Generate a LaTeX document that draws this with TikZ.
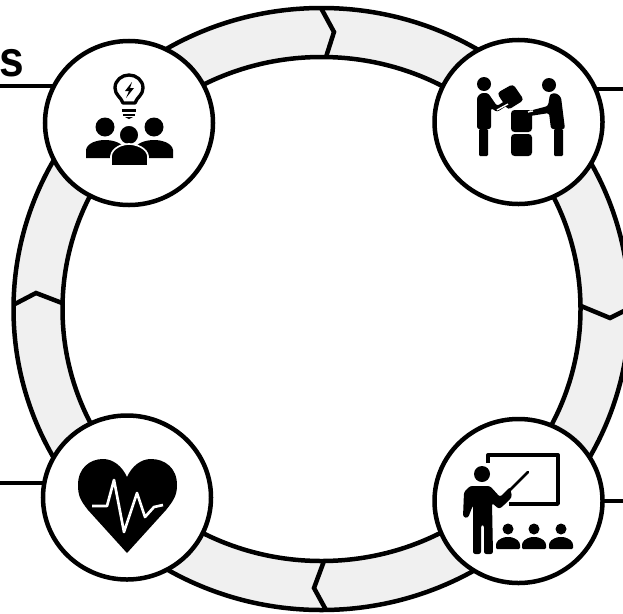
\documentclass[tikz,border=0pt]{standalone}
\usepackage{fontspec}
\setmainfont{Liberation Sans}
\usetikzlibrary{shapes.geometric}
\definecolor{ringgrey}{HTML}{F0F0F0}
\tikzset{
  hub/.style={ellipse,draw=black,fill=white,line width=0.135cm,minimum width=5.04cm,minimum height=4.92cm,inner sep=0pt,outer sep=0pt},
  wire/.style={line width=0.135cm,draw=black},
  ink/.style={fill=black,draw=none},
  cutink/.style={fill=black,draw=white,line width=0.05cm},
  stroke/.style={draw=black,line width=0.1cm,line join=round}
}
\begin{document}
\begin{tikzpicture}[x=0.03cm,y=-0.03cm]
\useasboundingbox (0,0) rectangle (623,613);
\clip (0,0) rectangle (623,613);

\node[coordinate] (c) at (321.5,309) {};
\draw[wire,fill=ringgrey,even odd rule] (c) ellipse [x radius=308,y radius=301] (c) ellipse [x radius=259,y radius=252];

% chevrons in the ring
\node[coordinate] (t1) at (321,8) {};
\node[coordinate] (t2) at (334,32) {};
\node[coordinate] (t3) at (326,57) {};
\node[coordinate] (b1) at (324,561) {};
\node[coordinate] (b2) at (314,588) {};
\node[coordinate] (b3) at (326,610) {};
\node[coordinate] (l1) at (13,305) {};
\node[coordinate] (l2) at (36,293) {};
\node[coordinate] (l3) at (62,303) {};
\node[coordinate] (r1) at (581,306) {};
\node[coordinate] (r2) at (610,318) {};
\node[coordinate] (r3) at (630,308) {};
\draw[wire] (t1)--(t2)--(t3);
\draw[wire] (b1)--(b2)--(b3);
\draw[wire] (l1)--(l2)--(l3);
\draw[wire] (r1)--(r2)--(r3);

\node[hub] (ideas) at (129,123) {};
\node[hub] (handover) at (518.5,122) {};
\node[hub] (teaching) at (518.5,501) {};
\node[hub] (health) at (127,497.5) {};

\node[coordinate] (e1) at (0,86) {};
\node[coordinate] (e2) at (623,89) {};
\node[coordinate] (e3) at (623,501) {};
\node[coordinate] (e4) at (0,483) {};
\draw[wire] (e1)--(e1 -| ideas.154);
\draw[wire] (e2)--(e2 -| handover.20);
\draw[wire] (e3)--(e3 -| teaching.east);
\draw[wire] (e4)--(e4 -| health.170);

\node[anchor=base east,inner sep=0pt] (word) at (24.7,76) {\scalebox{0.88}[1]{\fontsize{43}{43}\selectfont\bfseries s}};

% ideas icon
\draw[stroke] (123,103) .. controls (121,97) and (115,95) .. (115,88) .. controls (115,80) and (122,75) .. (129,75) .. controls (136,75) and (143,80) .. (143,88) .. controls (143,95) and (137,97) .. (135,103) -- cycle;
\path[ink] (132,82)--(125,91)--(129,91)--(126,98)--(134,88)--(130,88)--cycle;
\path[ink] (122,109) rectangle (136,112);
\path[ink] (123,114) rectangle (135,116);
\path[ink] (125,117)--(133,117)--(129,119)--cycle;
\path[ink] (105,127) circle [radius=9.5];
\path[ink] (154,127) circle [radius=9.5];
\path[ink] (86,158)--(86,150) .. controls (87,143) and (97,140) .. (105,140) .. controls (113,140) and (124,143) .. (124,150) -- (124,158) -- cycle;
\path[ink] (173,158)--(173,150) .. controls (172,143) and (162,140) .. (154,140) .. controls (146,140) and (135,143) .. (135,150) -- (135,158) -- cycle;
\path[cutink] (129,135) circle [radius=10];
\path[cutink] (111,166)--(111,156) .. controls (112,148) and (122,144) .. (129,144) .. controls (136,144) and (147,148) .. (148,156) -- (148,166) -- cycle;

% handover icon
\path[ink] (484,84) circle [radius=7];
\path[ink,rounded corners=2pt] (477,129)--(477,97)--(481,93)--(488,93)--(497,106)--(508,99)--(511,103)--(497,112)--(491,108)--(491,129)--cycle;
\path[ink,rounded corners=1pt] (479,129) rectangle (488,156);
\path[ink] (549,85) circle [radius=7];
\path[ink,rounded corners=2pt] (565,129)--(561,97)--(556,93)--(550,94)--(548,106)--(529,111)--(530,116)--(549,113)--(551,129)--cycle;
\path[ink,rounded corners=1pt] (554,129) rectangle (563,156);
\path[ink,rounded corners=3pt] (497,93)--(513,84)--(524,100)--(508,110)--cycle;
\path[ink,rounded corners=3pt] (511,110) rectangle (532,132);
\path[ink,rounded corners=3pt] (511,134) rectangle (532,156);
\draw[white,line width=0.04cm] (497,110)--(508,104) (528,112)--(533,111);

% teaching icon
\draw[stroke] (488,463)--(488,455)--(558,455)--(558,504)--(509,504);
\path[ink] (482,474) circle [radius=8];
\path[ink,rounded corners=2pt] (463,517)--(464,492)--(470,486)--(490,486)--(500,497)--(510,487)--(512,497)--(503,506)--(499,509)--(492,503)--(493,554)--(484,554)--(484,525)--(481,525)--(481,554)--(473,554)--(473,505)--(468,518)--cycle;
\draw[black,line width=0.08cm,line cap=round] (510,490)--(528,472);
\foreach \hx in {508,534,561}{
  \path[ink] (\hx,529) circle [radius=5.5];
  \path[ink,rounded corners=1pt] (\hx-12,549)--(\hx-12,544) .. controls (\hx-10,539) and (\hx-4,537) .. (\hx,537) .. controls (\hx+4,537) and (\hx+10,539) .. (\hx+12,544) -- (\hx+12,549) -- cycle;
}

% health icon
\path[ink] (127,553) -- (88,510) .. controls (80,500) and (78,495) .. (78,485) .. controls (78,468) and (90,459) .. (103,459) .. controls (113,459) and (122,466) .. (127,477) .. controls (132,466) and (141,459) .. (151,459) .. controls (165,459) and (177,468) .. (177,485) .. controls (177,495) and (174,500) .. (166,510) -- cycle;
\draw[white,line width=0.08cm,line join=round] (92,506)--(107,506)--(114,480)--(124,532)--(137,493)--(145,517)--(154,507)--(163,505);

\end{tikzpicture}
\end{document}
